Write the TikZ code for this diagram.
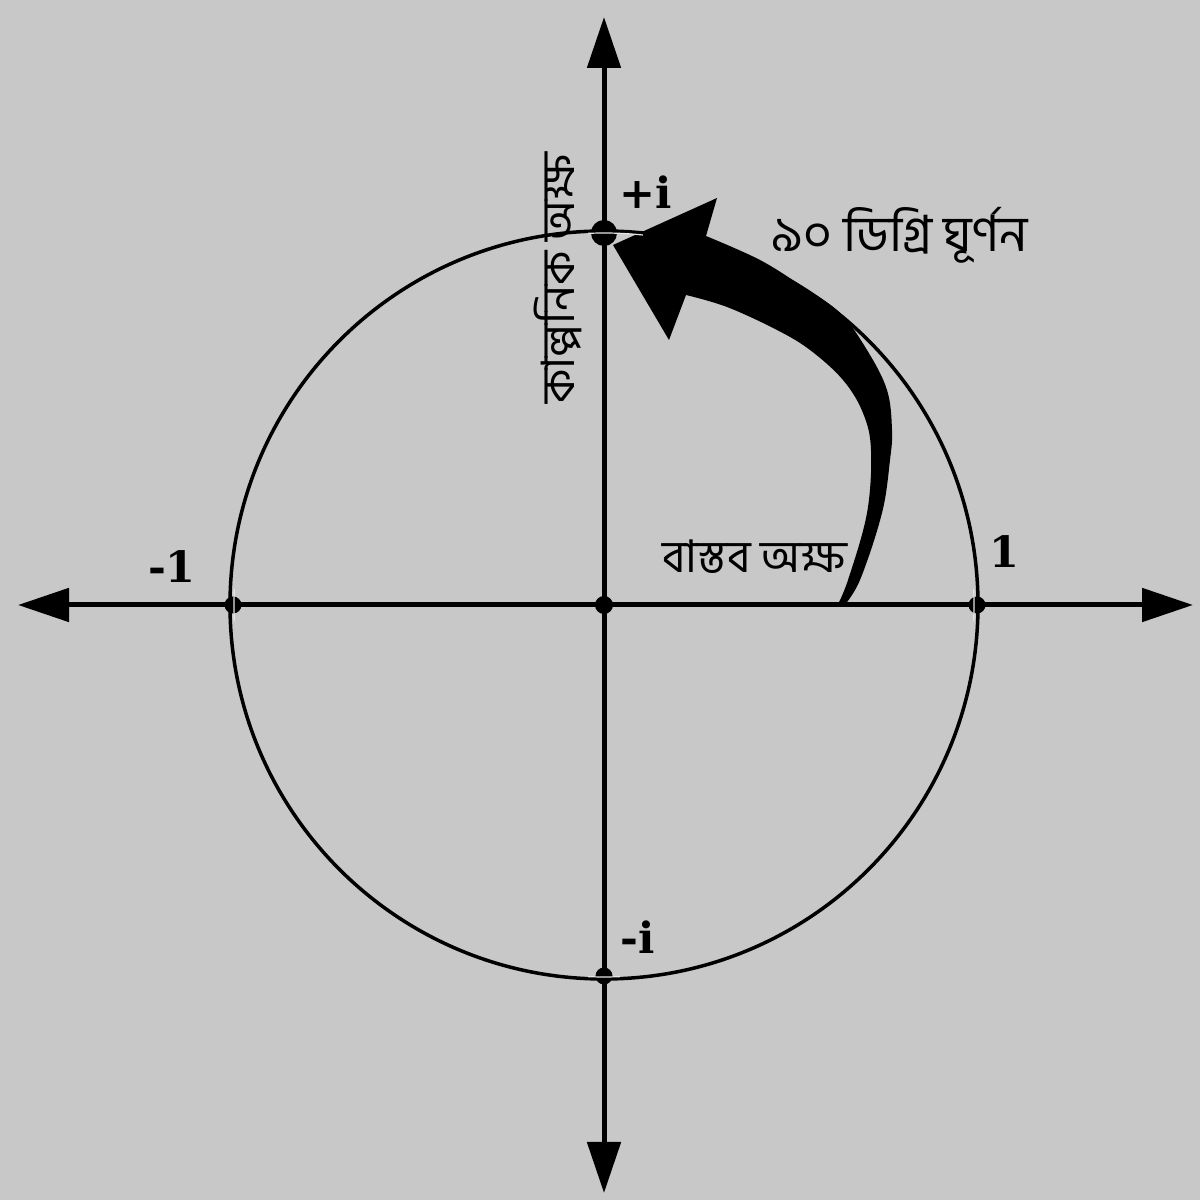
\documentclass[tikz,border=0pt]{standalone}
\usepackage{fontspec}
\setmainfont{DejaVu Serif}
\newfontfamily\bnfont[Script=Bengali]{Hind Siliguri}
\usetikzlibrary{arrows.meta}
\definecolor{bg}{RGB}{200,200,200}
\definecolor{hl}{RGB}{228,228,228}
\begin{document}
\begin{tikzpicture}[x=1pt,y=1pt,
  axisline/.style={line width=5pt, {Triangle[length=51pt,width=33pt]}-{Triangle[length=51pt,width=33pt]}},
  pdot/.style={circle, fill=black, inner sep=0pt, minimum size=#1},
  lab/.style={font=\fontsize{43}{43}\selectfont\bfseries, inner sep=0pt},
  bn/.style={font=\bnfont\fontsize{#1}{#1}\selectfont, inner sep=0pt},
  hlline/.style={hl, line width=1.2pt}]
\fill[bg] (0,0) rectangle (1200,1200);
\useasboundingbox (0,0) rectangle (1200,1200);
\coordinate (L) at (18,595);
\coordinate (R) at (1193,595);
\coordinate (T) at (604,1183);
\coordinate (B) at (604,7);
\coordinate (O) at (604,595);
% unit circle
\draw[line width=3.5pt] (O) circle[radius=374];
% axes
\draw[axisline] (L) -- (R);
\draw[axisline] (B) -- (T);
% 90 degree rotation arrow
\fill (613,955) -- (717,1002) -- (706,964)
  -- plot[smooth, tension=0.6] coordinates {(706,964) (760,940) (803,913) (840,887) (867,850) (887,810) (892,770) (890,740) (882,687) (860,620) (843,593)}
  -- (837,594)
  -- plot[smooth, tension=0.6] coordinates {(837,594) (848,620) (867,687) (871,750) (863,787) (843,820) (810,850) (777,870) (727,893) (686,905)}
  -- (669,860) -- cycle;
% points
\node[pdot=18pt] (o) at (O) {};
\node[pdot=26pt] (ip) at (604,967) {};
\node[pdot=17pt] (im) at (604,224) {};
\node[pdot=17pt] (rm) at (233,595) {};
\node[pdot=17pt] (rp) at (977,595) {};
\draw[hlline] (O) ++(84:372) arc[start angle=84, end angle=92.5, radius=372];
\draw[hlline] (O) ++(267.5:372) arc[start angle=267.5, end angle=272.5, radius=372];
\draw[hlline] (O) ++(177.5:370) arc[start angle=177.5, end angle=182.5, radius=370];
\draw[hlline] (O) ++(-2.5:370) arc[start angle=-2.5, end angle=2.5, radius=370];
% labels
\node[lab] (lpi) at (646,1008) {+i};
\node[lab] (lm1) at (172,633) {-1};
\node[lab] (lp1) at (1004,648) {1};
\node[lab] (lmi) at (638,263) {-i};
\node[bn=50] (rot) at (900,965) {৯০ ডিগ্রি ঘূর্ণন};
\node[bn=45] (real) at (755,643) {বাস্তব অক্ষ};
\node[bn=46, rotate=90] (imag) at (558,922) {কাল্পনিক অক্ষ};
\end{tikzpicture}
\end{document}
